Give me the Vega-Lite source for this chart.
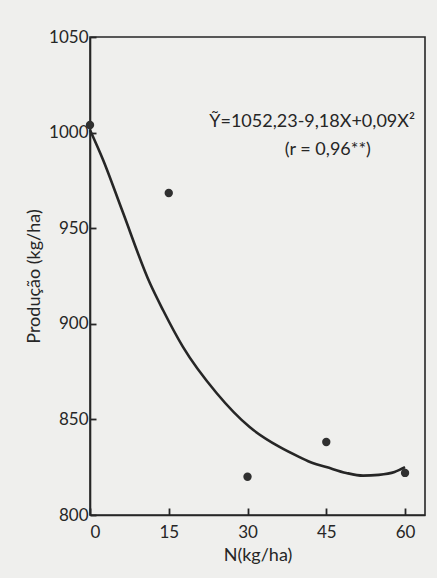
{
  "$schema": "https://vega.github.io/schema/vega-lite/v6.json",
  "autosize": "none",
  "width": 335,
  "height": 478,
  "padding": {"left": 90, "top": 37, "right": 12, "bottom": 63},
  "background": "#efefed",
  "config": {
    "view": {"stroke": "#262626", "strokeWidth": 1.6},
    "font": "Lato",
    "axis": {
      "domainColor": "#262626",
      "domainWidth": 1.6,
      "tickColor": "#262626",
      "tickWidth": 1.8,
      "grid": false,
      "labelFont": "Lato",
      "labelFontSize": 17,
      "labelColor": "#262626",
      "titleFont": "Lato",
      "titleFontSize": 18,
      "titleFontWeight": "normal",
      "titleColor": "#262626"
    },
    "axisX": {"tickSize": -7},
    "axisY": {"tickSize": -6}
  },
  "datasets": {
    "curve": [
      {"N": 0, "Y": 1001.4},
      {"N": 2.5, "Y": 985.7},
      {"N": 6.1, "Y": 959.5},
      {"N": 11.4, "Y": 921.3},
      {"N": 13.9, "Y": 907.2},
      {"N": 17.7, "Y": 887.9},
      {"N": 24.1, "Y": 863.8},
      {"N": 30.4, "Y": 846.0},
      {"N": 36.1, "Y": 835.6},
      {"N": 39.9, "Y": 830.3},
      {"N": 42.4, "Y": 827.2},
      {"N": 45.0, "Y": 825.1},
      {"N": 48.8, "Y": 822.0},
      {"N": 52.0, "Y": 820.6},
      {"N": 55.0, "Y": 821.0},
      {"N": 58.0, "Y": 822.5},
      {"N": 60.0, "Y": 825.0}
    ],
    "obs": [
      {"N": 0, "Y": 1004},
      {"N": 15, "Y": 968.4},
      {"N": 30, "Y": 820},
      {"N": 45, "Y": 838.2},
      {"N": 60, "Y": 822}
    ],
    "notes": [
      {"N": 42.3, "Y": 1005.7, "label": "Ỹ=1052,23-9,18X+0,09X²"},
      {"N": 45.3, "Y": 990.7, "label": "(r = 0,96**)"}
    ]
  },
  "encoding": {
    "x": {
      "field": "N",
      "type": "quantitative",
      "scale": {"domain": [0, 63.8], "nice": false, "zero": false},
      "axis": {
        "values": [0, 15, 30, 45, 60],
        "format": "d",
        "title": "N(kg/ha)",
        "labelPadding": 16,
        "titlePadding": 6
      }
    },
    "y": {
      "field": "Y",
      "type": "quantitative",
      "scale": {"domain": [800, 1050], "nice": false, "zero": false},
      "axis": {
        "values": [800, 850, 900, 950, 1000, 1050],
        "format": "d",
        "title": "Produção (kg/ha)",
        "labelPadding": 8,
        "titlePadding": 5
      }
    }
  },
  "layer": [
    {
      "data": {"name": "curve"},
      "mark": {"type": "line", "interpolate": "monotone", "color": "#262626", "strokeWidth": 2.6}
    },
    {
      "data": {"name": "obs"},
      "mark": {"type": "point", "filled": true, "color": "#303030", "size": 70, "opacity": 1}
    },
    {
      "data": {"name": "notes"},
      "mark": {"type": "text", "font": "Lato", "fontSize": 18, "color": "#262626", "align": "center", "baseline": "middle"},
      "encoding": {"text": {"field": "label"}}
    }
  ]
}
